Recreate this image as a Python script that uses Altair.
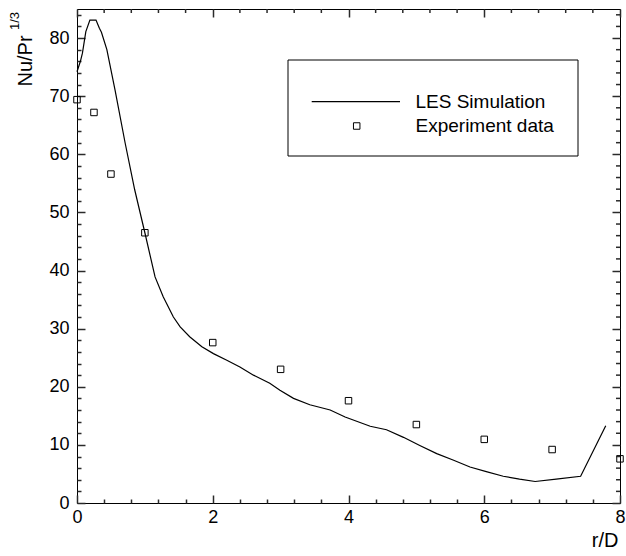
import altair as alt
import pandas as pd

FONT = "Liberation Sans"

# LES simulation curve
les_r = [0.0, 0.05, 0.08, 0.13, 0.19, 0.28, 0.33, 0.36, 0.44, 0.56, 0.71, 0.85,
         1.0, 1.15, 1.27, 1.42, 1.52, 1.66, 1.84, 2.01, 2.2, 2.4, 2.6, 2.84,
         2.99, 3.19, 3.43, 3.73, 3.95, 4.32, 4.56, 4.81, 5.05, 5.3, 5.54, 5.79,
         6.03, 6.28, 6.52, 6.75, 7.06, 7.42, 7.79]
les_nu = [74.2, 76.0, 77.4, 81.1, 83.1, 83.1, 81.7, 81.0, 78.0, 71.1, 61.9, 53.9,
          46.5, 38.9, 35.5, 32.0, 30.3, 28.6, 26.9, 25.7, 24.6, 23.4, 22.0, 20.6,
          19.4, 18.0, 16.9, 16.0, 14.8, 13.2, 12.6, 11.3, 9.9, 8.5, 7.4, 6.2,
          5.4, 4.6, 4.1, 3.7, 4.1, 4.6, 13.3]

# Experiment data
exp_r = [0, 0.25, 0.5, 1, 2, 3, 4, 5, 6, 7, 8]
exp_nu = [69.4, 67.2, 56.6, 46.5, 27.6, 23.0, 17.6, 13.5, 10.95, 9.2, 7.6]

series_names = ["LES Simulation", "Experiment data"]

x_major = [0, 2, 4, 6, 8]
x_minor = [0.4, 0.8, 1.2, 1.6, 2.4, 2.8, 3.2, 3.6, 4.4, 4.8, 5.2, 5.6,
           6.4, 6.8, 7.2, 7.6]
y_major = [0, 10, 20, 30, 40, 50, 60, 70, 80]
y_minor = [2, 4, 6, 8, 12, 14, 16, 18, 22, 24, 26, 28, 32, 34, 36, 38,
           42, 44, 46, 48, 52, 54, 56, 58, 62, 64, 66, 68, 72, 74, 76, 78,
           82, 84]
x_range = [0, 8]
y_range = [0, 85]

W, H = 543, 494
MINOR_PX = 4

df_les = pd.DataFrame({"r": les_r, "nu": les_nu, "series": series_names[0]})
df_exp = pd.DataFrame({"r": exp_r, "nu": exp_nu, "series": series_names[1]})
df_one = pd.DataFrame({"a": [0]})

xs = alt.Scale(domain=x_range, nice=False, zero=False)
ys = alt.Scale(domain=y_range, nice=False, zero=False)

TICK_COLOR = "#2a2a2a"
TICK_W = 1.5
LEG_TITLE = dict(titleFont=FONT, titleFontSize=19, titleFontWeight="normal",
                 titleColor="black", titleAngle=0, titleAlign="left",
                 titleBaseline="alphabetic")


def tick_axis(orient, values, size, **kw):
    # inward-pointing ticks: axis shifted inside the plot by its tick length
    return alt.Axis(orient=orient, values=values, tickSize=size, offset=-size,
                    domain=False, grid=False, labels=False,
                    tickColor=TICK_COLOR, tickWidth=TICK_W, **kw)


x_bottom = alt.Axis(orient="bottom", values=x_major, tickSize=8, offset=-8,
                    tickColor=TICK_COLOR, tickWidth=TICK_W,
                    domain=False, grid=False, format="d",
                    labelFlush=False, labelFont=FONT, labelFontSize=18,
                    labelColor="black", labelPadding=5,
                    title="r/D", titleFont=FONT, titleFontSize=20,
                    titleFontWeight="normal", titleColor="black",
                    titleX=541, titleY=51, titleAlign="right",
                    titleBaseline="alphabetic", titleAngle=0)
y_left = alt.Axis(orient="left", values=y_major, tickSize=8, offset=-8,
                  tickColor=TICK_COLOR, tickWidth=TICK_W,
                  domain=False, grid=False, format="d",
                  labelFlush=False, labelFont=FONT, labelFontSize=18,
                  labelColor="black", labelPadding=8,
                  title="Nu/Pr", titleFont=FONT, titleFontSize=20,
                  titleFontWeight="normal", titleColor="black",
                  titleAngle=270, titleAlign="left", titleBaseline="alphabetic",
                  titleX=-54, titleY=77)

line = alt.Chart(df_les).mark_line(color="black", strokeWidth=1.2).encode(
    x=alt.X("r:Q", scale=xs, axis=x_bottom),
    y=alt.Y("nu:Q", scale=ys, axis=y_left),
)

# experiment points; their top/right axes carry the major inner ticks and the
# two legend labels (as axis titles)
points = alt.Chart(df_exp).mark_point(
    shape="square", filled=False, color="black", size=42, strokeWidth=1, opacity=1
).encode(
    x=alt.X("r:Q", scale=xs, axis=tick_axis(
        "top", x_major, 8, title=series_names[0], titleX=338, titleY=90.3,
        **LEG_TITLE)),
    y=alt.Y("nu:Q", scale=ys, axis=tick_axis(
        "right", y_major, 8, title=series_names[1], titleX=-197, titleY=122.7,
        **LEG_TITLE)),
)

minor_a = alt.Chart(df_exp).mark_point(opacity=0).encode(
    x=alt.X("r:Q", scale=xs, axis=tick_axis("bottom", x_minor, MINOR_PX, title=None)),
    y=alt.Y("nu:Q", scale=ys, axis=tick_axis(
        "left", y_minor, MINOR_PX,
        title="1/3", titleFont=FONT, titleFontSize=13,
        titleFontWeight="normal", titleColor="black", titleAngle=270,
        titleAlign="left", titleBaseline="alphabetic",
        titleX=-62.5, titleY=20.5)),
)

# top and right minor ticks as short rules through the shared scales
dy_minor = MINOR_PX * (y_range[1] - y_range[0]) / H
dx_minor = MINOR_PX * (x_range[1] - x_range[0]) / W

top_minor = alt.Chart(pd.DataFrame({"v": x_minor})).mark_rule(
    color=TICK_COLOR, strokeWidth=TICK_W
).encode(
    x=alt.X("v:Q", scale=xs, axis=None),
    y=alt.YDatum(y_range[1], type="quantitative", scale=ys, axis=None),
    y2=alt.Y2Datum(y_range[1] - dy_minor),
)
right_minor = alt.Chart(pd.DataFrame({"v": y_minor})).mark_rule(
    color=TICK_COLOR, strokeWidth=TICK_W
).encode(
    y=alt.Y("v:Q", scale=ys, axis=None),
    x=alt.XDatum(x_range[1], type="quantitative", scale=xs, axis=None),
    x2=alt.X2Datum(x_range[1] - dx_minor),
)

# legend frame (four rules), line sample and square sample
BOX_L, BOX_R, BOX_T, BOX_B = 211, 501, 51, 147
box_h = alt.Chart(pd.DataFrame({"yy": [BOX_T, BOX_B]})).mark_rule(
    color="black", strokeWidth=1
).encode(x=alt.value(BOX_L), x2=alt.value(BOX_R), y=alt.Y("yy:Q", scale=None, axis=None))
box_v = alt.Chart(pd.DataFrame({"xx": [BOX_L, BOX_R]})).mark_rule(
    color="black", strokeWidth=1
).encode(y=alt.value(BOX_T), y2=alt.value(BOX_B), x=alt.X("xx:Q", scale=None, axis=None))

legend_line = alt.Chart(df_one).mark_rule(color="black", strokeWidth=1.2).encode(
    x=alt.value(234.7), x2=alt.value(323), y=alt.value(92.7)
)
legend_square = alt.Chart(df_one).mark_point(
    shape="square", filled=False, color="black", size=42, strokeWidth=1, opacity=1
).encode(x=alt.value(279.7), y=alt.value(117))

chart = alt.layer(
    line, points, minor_a, top_minor, right_minor,
    box_h, box_v, legend_line, legend_square
).resolve_axis(
    x="independent", y="independent"
).properties(
    width=W, height=H,
    autosize=alt.AutoSizeParams(type="none"),
    padding={"left": 77, "top": 9, "right": 6, "bottom": 53},
    background="white",
).configure_view(stroke="black", strokeWidth=1)

chart.save("out.html", embed_options={"renderer": "svg", "actions": False})
